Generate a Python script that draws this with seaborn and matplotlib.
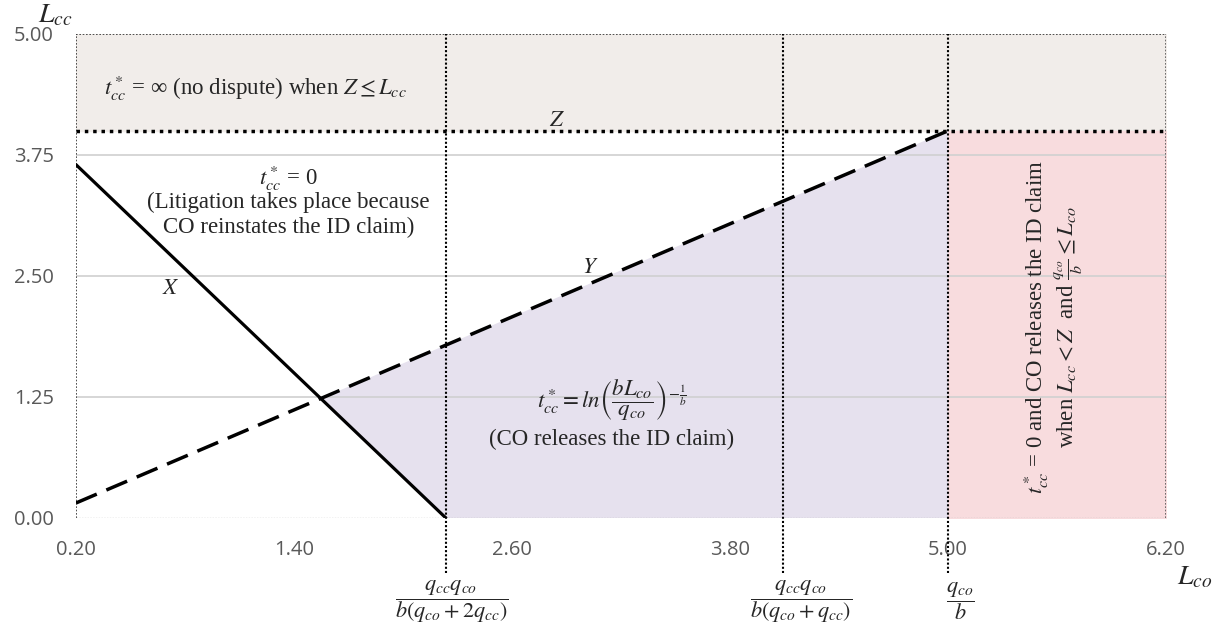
import matplotlib
matplotlib.use("Agg")
import matplotlib.pyplot as plt
import seaborn as sns
import pandas as pd
import numpy as np

# ---- data ----
x_ticks = [0.20, 1.40, 2.60, 3.80, 5.00, 6.20]
y_ticks = [0.00, 1.25, 2.50, 3.75, 5.00]
line_X_x = [0.20, 2.236]
line_X_y = [3.65, 0.00]
line_Y_x = [0.20, 5.00]
line_Y_y = [0.155, 4.00]
Z_level = 4.00
thresholds = [2.236, 4.09, 5.00]
threshold_labels = [r"$\dfrac{q_{cc}q_{co}}{b(q_{co}+2q_{cc})}$",
                    r"$\dfrac{q_{cc}q_{co}}{b(q_{co}+q_{cc})}$",
                    r"$\dfrac{q_{co}}{b}$"]

sns.set_theme(style="white")
plt.rcParams["font.family"] = ["Liberation Serif", "DejaVu Serif"]
plt.rcParams["mathtext.fontset"] = "stix"

fig = plt.figure(figsize=(12.24, 6.33), dpi=100)
ax = fig.add_axes([0.0621, 0.1817, 0.8905, 0.7646])
xmin, xmax = x_ticks[0], x_ticks[-1]
ymin, ymax = y_ticks[0], y_ticks[-1]
ax.set_xlim(xmin, xmax)
ax.set_ylim(ymin, ymax)

# intersection of X and Y
sx = (line_X_y[1] - line_X_y[0]) / (line_X_x[1] - line_X_x[0])
sy = (line_Y_y[1] - line_Y_y[0]) / (line_Y_x[1] - line_Y_x[0])
xi = line_X_x[0] + (line_Y_y[0] - line_X_y[0]) / (sx - sy)
yi = line_X_y[0] + sx * (xi - line_X_x[0])

# regions
ax.fill_between([xmin, xmax], Z_level, ymax, color="#F1EDEA", zorder=0)
ax.fill_between([thresholds[2], xmax], 0, Z_level, color="#F8DCDE", zorder=0)
ax.fill([xi, line_Y_x[1], line_Y_x[1], line_X_x[1]],
        [yi, line_Y_y[1], 0, 0], color="#E6E1EE", lw=0, zorder=0)

# gridlines
for yv in y_ticks[1:-1]:
    ax.plot([xmin, xmax], [yv, yv], color="#D0D0D0", lw=1.2, zorder=1)
ax.plot([xmin, xmax], [0, 0], color="#BDBDBD", lw=1.0, ls=(0, (1, 1)), zorder=1)

# border
ax.plot([xmin, xmax], [ymax, ymax], color="#333333", lw=1.2, ls=(0, (1, 1)), zorder=2)
ax.plot([xmin, xmin], [0, ymax], color="#333333", lw=1.2, ls=(0, (1, 1)), zorder=2)
ax.plot([xmax, xmax], [0, ymax], color="#555555", lw=1.2, ls=(0, (1, 1)), zorder=2)

# thresholds
label_shift = [0.03, 0.10, 0.07]
for t, lab, dx in zip(thresholds, threshold_labels, label_shift):
    ax.plot([t, t], [-0.57, ymax], color="black", lw=1.5, ls=(0, (1, 1)),
            clip_on=False, zorder=3)
    ax.text(t + dx, -0.86, lab, ha="center", va="center", fontsize=16, clip_on=False)

# Z line
ax.plot([xmin, xmax], [Z_level, Z_level], color="black", lw=2.5, ls=(0, (1, 1.4)), zorder=4)

# X and Y lines
sns.lineplot(x=line_X_x, y=line_X_y, ax=ax, color="black", lw=2.3, zorder=5)
sns.lineplot(x=line_Y_x, y=line_Y_y, ax=ax, color="black", lw=2.5,
             dashes=False, linestyle=(0, (6.5, 3)), zorder=5)

# ticks
ax.set_xticks(x_ticks)
ax.set_yticks(y_ticks)
ax.set_xticklabels([f"{v:.2f}" for v in x_ticks], family="Open Sans", color="#595959", fontsize=14.5)
ax.set_yticklabels([f"{v:.2f}" for v in y_ticks], family="Open Sans", color="#595959", fontsize=14.5)
ax.tick_params(axis="x", length=0, pad=16)
ax.tick_params(axis="y", length=0, pad=16)
for s in ax.spines.values():
    s.set_visible(False)
ax.grid(False)
ax.set_xlabel("")
ax.set_ylabel("")

# annotations
fs = 16.5
ax.text(1.19, 4.44, r"$t^*_{cc}$ = ∞ (no dispute) when $Z \leq L_{cc}$", ha="center", va="center", fontsize=fs)
ax.text(2.85, 4.11, r"$Z$", ha="center", va="center", fontsize=fs)
ax.text(1.37, 3.51, r"$t^*_{cc}$ = 0", ha="center", va="center", fontsize=fs)
ax.text(1.37, 3.26, "(Litigation takes place because", ha="center", va="center", fontsize=fs)
ax.text(1.37, 3.00, "CO reinstates the ID claim)", ha="center", va="center", fontsize=fs)
ax.text(0.72, 2.37, r"$X$", ha="center", va="center", fontsize=fs)
ax.text(3.03, 2.59, r"$Y$", ha="center", va="center", fontsize=fs)
ax.text(3.15, 1.21, r"$t^*_{cc} = ln\left(\dfrac{bL_{co}}{q_{co}}\right)^{-\frac{1}{b}}$",
        ha="center", va="center", fontsize=fs)
ax.text(3.15, 0.81, "(CO releases the ID claim)", ha="center", va="center", fontsize=fs)
ax.text(5.58, 1.97, r"$t^*_{cc}$ = 0 and CO releases the ID claim" + "\n" +
        r"when $L_{cc} < Z$  and $\frac{q_{co}}{b} \leq L_{co}$",
        ha="center", va="center", rotation=90, fontsize=fs, linespacing=1.05)

fig.text(55 / 1224, 1 - 16 / 633, r"$L_{cc}$", ha="center", va="center", fontsize=20)
fig.text(1195 / 1224, 1 - 578 / 633, r"$L_{co}$", ha="center", va="center", fontsize=20)

fig.savefig("out.png", dpi=100)
